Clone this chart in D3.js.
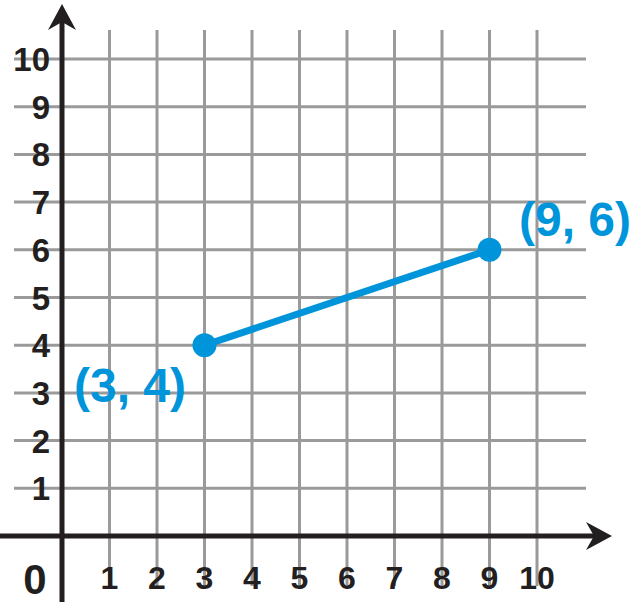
<!DOCTYPE html><html><head><script src="https://d3js.org/d3.v7.min.js"></script>
<style>body{margin:0;background:#fff}</style></head><body><svg id="c" width="642" height="602"></svg>
<script>
const xTicks=[1,2,3,4,5,6,7,8,9,10];
const yTicks=[1,2,3,4,5,6,7,8,9,10];
const points=[{x:3,y:4,label:"(3, 4)"},{x:9,y:6,label:"(9, 6)"}];
const svg=d3.select("#c");
const x=d3.scaleLinear().domain([0,10]).range([62,537]);
const y=d3.scaleLinear().domain([0,10]).range([536,59]);
const g=svg.append("g");
g.selectAll(".v").data(xTicks).join("line").attr("x1",d=>x(d)).attr("x2",d=>x(d)).attr("y1",30).attr("y2",586).attr("stroke","#9a9a9a").attr("stroke-width",3);
g.selectAll(".h").data(yTicks).join("line").attr("y1",d=>y(d)).attr("y2",d=>y(d)).attr("x1",14).attr("x2",586).attr("stroke","#9a9a9a").attr("stroke-width",3);
svg.append("line").attr("x1",x(0)).attr("x2",x(0)).attr("y1",20).attr("y2",602).attr("stroke","#231f20").attr("stroke-width",5);
svg.append("line").attr("x1",0).attr("x2",596).attr("y1",y(0)).attr("y2",y(0)).attr("stroke","#231f20").attr("stroke-width",5);
svg.append("path").attr("d",`M${x(0)},4 L${x(0)-14},30 L${x(0)},22 L${x(0)+14},30 Z`).attr("fill","#231f20");
svg.append("path").attr("d",`M612,${y(0)} L586,${y(0)-14} L594,${y(0)} L586,${y(0)+14} Z`).attr("fill","#231f20");
const font="Arial, Liberation Sans, sans-serif";
svg.selectAll(".yl").data(yTicks).join("text").attr("x",50).attr("y",d=>y(d)+12).attr("text-anchor","end").attr("font-family",font).attr("font-weight","bold").attr("font-size",33).attr("fill","#231f20").text(d=>d);
svg.selectAll(".xl").data(xTicks).join("text").attr("x",d=>x(d)).attr("y",589).attr("text-anchor","middle").attr("font-family",font).attr("font-weight","bold").attr("font-size",32).attr("fill","#231f20").text(d=>d);
svg.append("text").attr("x",35).attr("y",594).attr("text-anchor","middle").attr("font-family",font).attr("font-weight","bold").attr("font-size",42).attr("fill","#231f20").text("0");
const blue="#0095da";
svg.append("path").datum(points).attr("d",d3.line().x(d=>x(d.x)).y(d=>y(d.y))).attr("stroke",blue).attr("stroke-width",7).attr("fill","none");
svg.selectAll(".pt").data(points).join("circle").attr("cx",d=>x(d.x)).attr("cy",d=>y(d.y)).attr("r",12).attr("fill",blue);
svg.append("text").attr("x",130).attr("y",402).attr("text-anchor","middle").attr("font-family",font).attr("font-weight","bold").attr("font-size",48).attr("fill",blue).text(points[0].label);
svg.append("text").attr("x",575).attr("y",236).attr("text-anchor","middle").attr("font-family",font).attr("font-weight","bold").attr("font-size",48).attr("fill",blue).text(points[1].label);
</script></body></html>
